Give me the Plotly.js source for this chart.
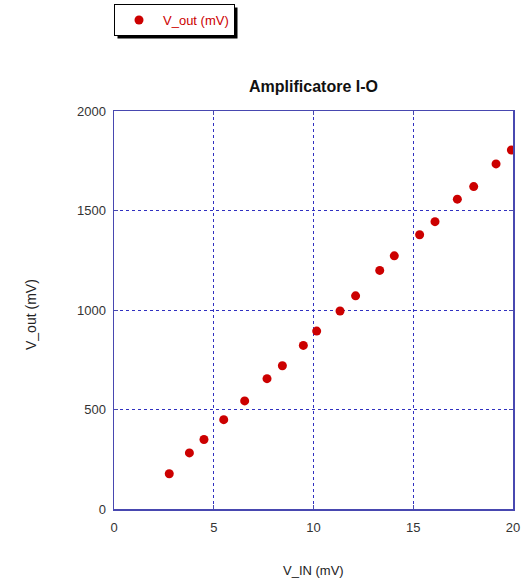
<!DOCTYPE html>
<html>
<head>
<meta charset="utf-8">
<script src="https://cdn.plot.ly/plotly-3.0.1.min.js"></script>
<style>
  html, body { margin: 0; padding: 0; background: #ffffff; }
  #chart { width: 523px; height: 580px; }
</style>
</head>
<body>
<div id="chart"></div>
<script>
// Amplifier input/output measurements
const vIn = [2.77, 3.78, 4.51, 5.50, 6.55, 7.67, 8.44, 9.49, 10.16, 11.33,
             12.11, 13.32, 14.05, 15.32, 16.09, 17.21, 18.03, 19.15, 19.92];
const vOut = [177, 282, 349, 449, 543, 655, 720, 822, 894, 995,
              1071, 1199, 1272, 1378, 1444, 1557, 1620, 1734, 1804];
const xTicks = [0, 5, 10, 15, 20];
const yTicks = [0, 500, 1000, 1500, 2000];
const xTitle = 'V_IN (mV)';
const yTitle = 'V_out (mV)';

const axisColor = '#4848b0';
const gridColor = '#3030c0';
const markerRed = '#cc0000';
const fontFamily = 'Arial, Liberation Sans, sans-serif';

const trace = {
  x: vIn,
  y: vOut,
  type: 'scatter',
  mode: 'markers',
  name: 'V_out (mV)',
  marker: { color: markerRed, size: 9, symbol: 'circle' }
};

const axisCommon = {
  showline: true,
  linecolor: axisColor,
  linewidth: 1.5,
  mirror: 'ticks',
  ticks: 'inside',
  ticklen: 4,
  tickcolor: axisColor,
  showgrid: true,
  gridcolor: gridColor,
  griddash: 'dot',
  gridwidth: 1,
  zeroline: false,
  tickfont: { family: fontFamily, size: 13, color: '#333333' },
  automargin: false
};

const margin = { l: 114, r: 10, t: 111, b: 71 };

const layout = {
  width: 523,
  height: 580,
  margin: Object.assign({ autoexpand: false }, margin),
  paper_bgcolor: '#ffffff',
  plot_bgcolor: '#ffffff',
  font: { family: fontFamily, color: '#222222' },
  title: {
    text: '<b>Amplificatore I-O</b>',
    font: { size: 16, color: '#111111' },
    x: 0.5, xref: 'paper', xanchor: 'center',
    y: 1 - 86 / 580, yref: 'container', yanchor: 'middle'
  },
  xaxis: Object.assign({}, axisCommon, {
    range: [0, 20],
    tickvals: xTicks,
    ticktext: xTicks.map(String),
    ticklabelstandoff: 6
  }),
  yaxis: Object.assign({}, axisCommon, {
    range: [0, 2000],
    tickvals: yTicks,
    ticktext: yTicks.map(String),
    ticklabelstandoff: 4
  }),
  // Axis titles placed as annotations so their offsets stay fixed in pixels
  annotations: [
    {
      text: xTitle, xref: 'paper', yref: 'paper',
      x: 0.5, y: 0, xanchor: 'center', yanchor: 'middle',
      yshift: -61, showarrow: false,
      font: { family: fontFamily, size: 13, color: '#222222' }
    },
    {
      text: yTitle, xref: 'paper', yref: 'paper',
      x: 0, y: 0.5, xanchor: 'center', yanchor: 'middle',
      xshift: -83, yshift: -5, textangle: -90, showarrow: false,
      font: { family: fontFamily, size: 14, color: '#222222' }
    }
  ],
  showlegend: true,
  legend: {
    x: 114 / 523, xref: 'container', xanchor: 'left',
    y: 1 - 4 / 580, yref: 'container', yanchor: 'top',
    bgcolor: '#ffffff',
    bordercolor: '#000000',
    borderwidth: 1,
    font: { family: fontFamily, size: 13, color: markerRed },
    itemwidth: 38
  },
  shapes: []
};

Plotly.newPlot('chart', [trace], layout, { displayModeBar: false, staticPlot: true }).then(function (gd) {
  // Drop shadow behind the legend box, sized from the drawn legend
  const bg = gd.querySelector('.legend .bg');
  if (!bg) return;
  const box = bg.getBoundingClientRect();
  const sz = gd._fullLayout._size;
  const toX = px => (px - sz.l) / sz.w;
  const toY = py => 1 - (py - sz.t) / sz.h;
  const off = 3;
  Plotly.relayout(gd, {
    shapes: [{
      type: 'rect', xref: 'paper', yref: 'paper', layer: 'below',
      x0: toX(box.left + off), x1: toX(box.right + off),
      y0: toY(box.bottom + off), y1: toY(box.top + off),
      fillcolor: '#000000', line: { width: 0 }
    }]
  });
});
</script>
</body>
</html>
